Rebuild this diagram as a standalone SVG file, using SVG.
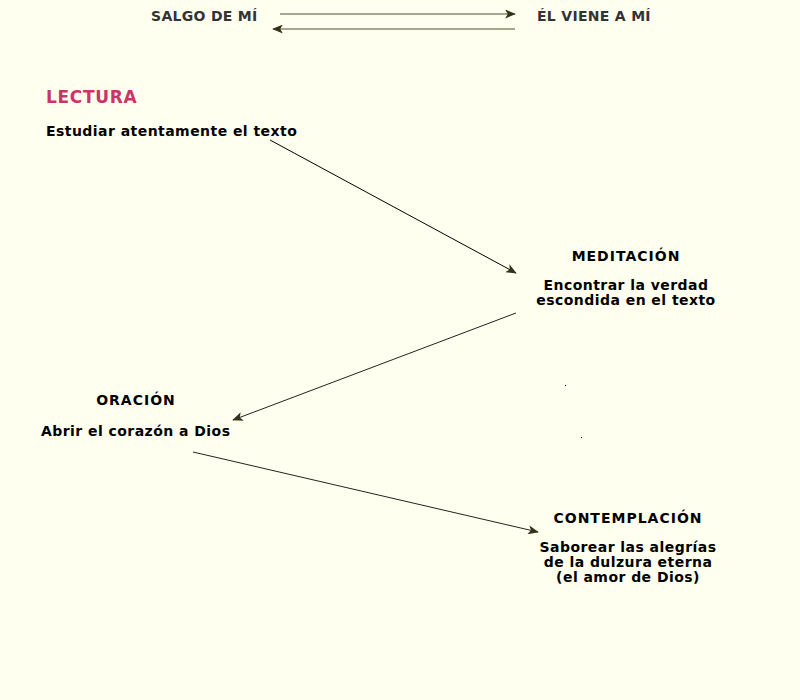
<svg xmlns="http://www.w3.org/2000/svg" width="800" height="700" viewBox="0 0 800 700">
<defs>
<marker id="ah" viewBox="0 0 12 10" refX="11" refY="5" markerWidth="11" markerHeight="9" markerUnits="userSpaceOnUse" orient="auto">
<path d="M0,0 L12,5 L0,10 L3,5 Z" fill="#33331a"/>
</marker>
</defs>
<style>
text{font-family:"DejaVu Sans",Verdana,sans-serif;font-weight:bold;}
.top{font-size:14px;fill:#333333;letter-spacing:0.3px;}
.ttl{font-size:14px;fill:#000;letter-spacing:1px;}
.sub{font-size:14px;fill:#000;letter-spacing:0.45px;}
.red{font-size:17px;fill:#cc3366;letter-spacing:0.7px;}
.c{text-anchor:middle;}
</style>
<rect width="800" height="700" fill="#fffff0"/>
<g id="top">
<text class="top" x="151" y="21">SALGO DE MÍ</text>
<text class="top" x="537" y="21">ÉL VIENE A MÍ</text>
</g>
<g id="lectura">
<text class="red" x="46" y="103">LECTURA</text>
<text class="sub" x="46" y="136">Estudiar atentamente el texto</text>
</g>
<g id="meditacion">
<text class="ttl c" x="626" y="261">MEDITACIÓN</text>
<text class="sub c" x="626" y="290">Encontrar la verdad</text>
<text class="sub c" x="626" y="305">escondida en el texto</text>
</g>
<g id="oracion">
<text class="ttl c" x="136" y="405">ORACIÓN</text>
<text class="sub" x="41" y="436">Abrir el corazón a Dios</text>
</g>
<g id="contemplacion">
<text class="ttl c" x="628" y="523">CONTEMPLACIÓN</text>
<text class="sub c" x="628" y="552">Saborear las alegrías</text>
<text class="sub c" x="628" y="567">de la dulzura eterna</text>
<text class="sub c" x="628" y="582">(el amor de Dios)</text>
</g>
<g id="connectors" fill="none">
<line x1="280" y1="14" x2="515" y2="14" stroke="#8a8a70" stroke-width="1.5" marker-end="url(#ah)"/>
<line x1="515" y1="29" x2="273" y2="29" stroke="#8a8a70" stroke-width="1.5" marker-end="url(#ah)"/>
<line x1="270" y1="140" x2="516" y2="273" stroke="#000" stroke-width="1" marker-end="url(#ah)"/>
<line x1="516" y1="313" x2="233" y2="420" stroke="#222" stroke-width="1" marker-end="url(#ah)"/>
<line x1="193" y1="452" x2="538" y2="532" stroke="#222" stroke-width="1" marker-end="url(#ah)"/>
</g>
<rect x="565" y="385" width="1" height="1" fill="#000"/>
<rect x="581" y="437" width="1" height="1" fill="#000"/>
</svg>
